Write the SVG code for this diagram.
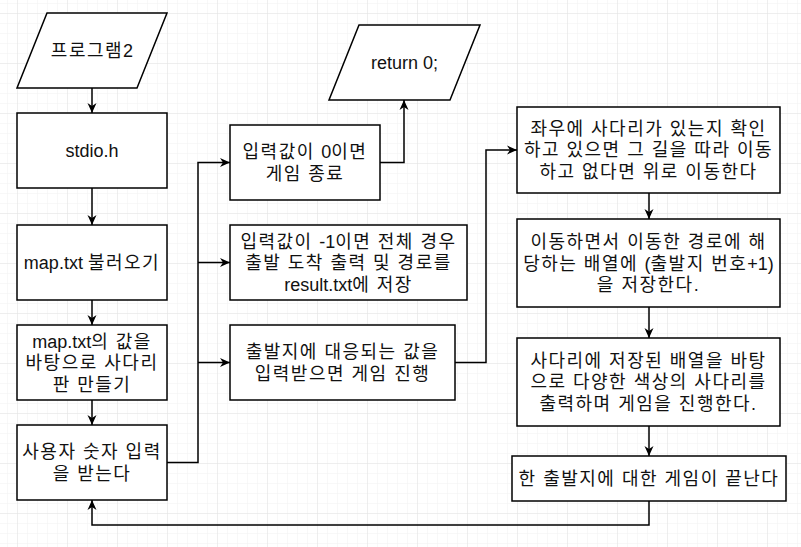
<svg xmlns="http://www.w3.org/2000/svg" width="801" height="547" viewBox="0 0 801 547">
<defs>
<pattern id="minor" x="7" y="3" width="10" height="10" patternUnits="userSpaceOnUse">
<path d="M0,0 H10 M0,0 V10" fill="none" stroke="#f1f1f1" stroke-width="1"/>
</pattern>
<pattern id="major" x="17" y="13" width="50" height="50" patternUnits="userSpaceOnUse">
<path d="M0,0 H50 M0,0 V50" fill="none" stroke="#e3e3e3" stroke-width="1"/>
</pattern>
<marker id="arr" viewBox="0 0 10 10" refX="10" refY="5" markerWidth="10" markerHeight="10" markerUnits="userSpaceOnUse" orient="auto">
<path d="M0,0.5 L10,5 L0,9.5 L3,5 Z" fill="#000"/>
</marker>
</defs>
<style>
.shape{fill:#fff;stroke:#000;stroke-width:1.5}
.conn{fill:none;stroke:#000;stroke-width:1.5;marker-end:url(#arr)}
text{font-family:"Liberation Sans","Noto Sans CJK KR",sans-serif;font-size:18px;fill:#111;text-anchor:middle;letter-spacing:1.5px;word-spacing:0}
.lat{letter-spacing:0}
</style>
<rect width="801" height="547" fill="#fff"/>
<rect width="801" height="547" fill="url(#minor)"/>
<rect width="801" height="547" fill="url(#major)"/>

<g id="connectors">
<path class="conn" d="M92,88 V113"/>
<path class="conn" d="M92,188 V225"/>
<path class="conn" d="M92,300 V325"/>
<path class="conn" d="M92,400 V425"/>
<path class="conn" d="M167,462.5 H198 V162.5 H230"/>
<path class="conn" d="M198,262.5 H230"/>
<path class="conn" d="M198,362.5 H230"/>
<path class="conn" d="M380,162.5 H404 V100"/>
<path class="conn" d="M455,362.5 H486 V150 H517"/>
<path class="conn" d="M649,193 V219"/>
<path class="conn" d="M649,307 V338"/>
<path class="conn" d="M649,426 V456"/>
<path class="conn" d="M649,501 V525 H92 V500"/>
</g>

<g id="n-program2">
<polygon class="shape" points="47,13 167,13 137,88 17,88"/>
<text x="92" y="57">프로그램<tspan class="lat">2</tspan></text>
</g>
<g id="n-stdio">
<rect class="shape" x="17" y="113" width="150" height="75"/>
<text class="lat" x="92" y="157">stdio.h</text>
</g>
<g id="n-mapload">
<rect class="shape" x="17" y="225" width="150" height="75"/>
<text x="92" y="269"><tspan class="lat">map.txt </tspan>불러오기</text>
</g>
<g id="n-mapmake">
<rect class="shape" x="17" y="325" width="150" height="75"/>
<text x="92" y="347.5"><tspan class="lat">map.txt</tspan>의 값을</text>
<text x="92" y="369">바탕으로 사다리</text>
<text x="92" y="390.5">판 만들기</text>
</g>
<g id="n-input">
<rect class="shape" x="17" y="425" width="150" height="75"/>
<text x="92" y="458">사용자 숫자 입력</text>
<text x="92" y="479.5">을 받는다</text>
</g>
<g id="n-return">
<polygon class="shape" points="359,25 480,25 450,100 329,100"/>
<text class="lat" x="404.5" y="69">return 0;</text>
</g>
<g id="n-zero">
<rect class="shape" x="230" y="125" width="150" height="75"/>
<text x="305" y="158">입력값이 <tspan class="lat">0</tspan>이면</text>
<text x="305" y="179.5">게임 종료</text>
</g>
<g id="n-minus1">
<rect class="shape" x="230" y="225" width="237" height="75"/>
<text x="348.5" y="247.5">입력값이 <tspan class="lat">-1</tspan>이면 전체 경우</text>
<text x="348.5" y="269">출발 도착 출력 및 경로를</text>
<text x="348.5" y="290.5"><tspan class="lat">result.txt</tspan>에 저장</text>
</g>
<g id="n-start">
<rect class="shape" x="230" y="325" width="225" height="75"/>
<text x="342.5" y="358">출발지에 대응되는 값을</text>
<text x="342.5" y="379.5">입력받으면 게임 진행</text>
</g>
<g id="n-check">
<rect class="shape" x="517" y="107" width="263" height="86"/>
<text x="648.5" y="134.5">좌우에 사다리가 있는지 확인</text>
<text x="648.5" y="156">하고 있으면 그 길을 따라 이동</text>
<text x="648.5" y="177.5">하고 없다면 위로 이동한다</text>
</g>
<g id="n-store">
<rect class="shape" x="517" y="219" width="263" height="88"/>
<text x="648.5" y="248">이동하면서 이동한 경로에 해</text>
<text x="648.5" y="269.5">당하는 배열에 <tspan class="lat">(</tspan>출발지 번호<tspan class="lat">+1)</tspan></text>
<text x="648.5" y="291">을 저장한다.</text>
</g>
<g id="n-print">
<rect class="shape" x="517" y="338" width="263" height="88"/>
<text x="648.5" y="366.5">사다리에 저장된 배열을 바탕</text>
<text x="648.5" y="388">으로 다양한 색상의 사다리를</text>
<text x="648.5" y="409.5">출력하며 게임을 진행한다.</text>
</g>
<g id="n-end">
<rect class="shape" x="512" y="456" width="274" height="45"/>
<text x="649" y="484.5">한 출발지에 대한 게임이 끝난다</text>
</g>
</svg>
